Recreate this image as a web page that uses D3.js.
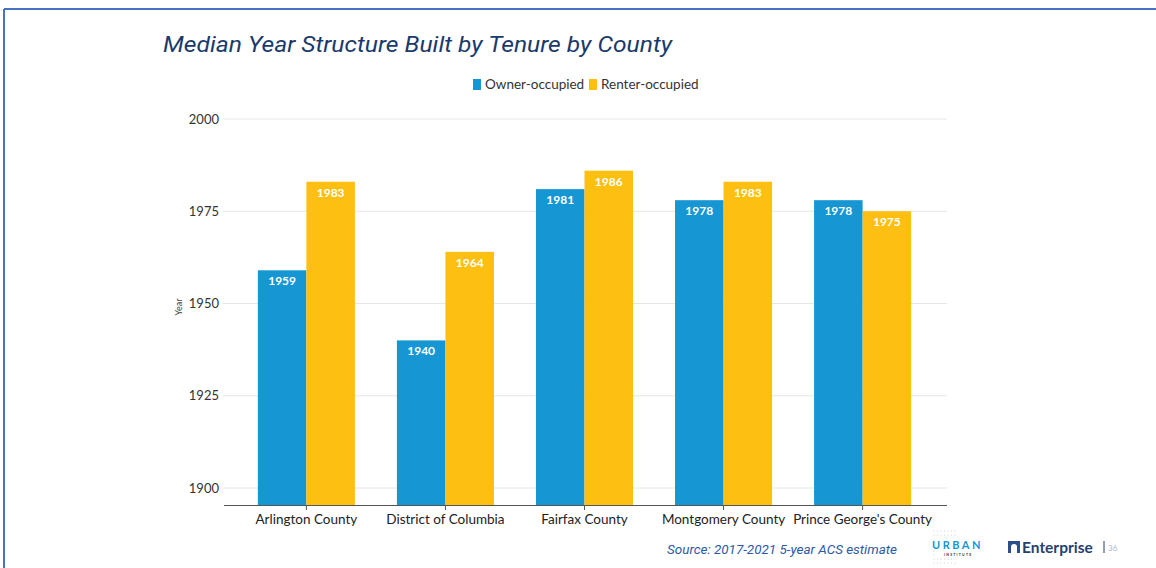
<!DOCTYPE html>
<html>
<head>
<meta charset="utf-8">
<script src="https://cdn.jsdelivr.net/npm/d3@7"></script>
<style>
  body { margin: 0; background: #fff; }
  svg { display: block; font-family: Lato, "Open Sans", sans-serif; }
</style>
</head>
<body>
<div id="canvas"></div>
<script>
var counties = ['Arlington County', 'District of Columbia', 'Fairfax County', 'Montgomery County', "Prince George's County"];
var series = ['Owner-occupied', 'Renter-occupied'];
var ownerYears = [1959, 1940, 1981, 1978, 1978];
var renterYears = [1983, 1964, 1986, 1983, 1975];
var yTicks = [1900, 1925, 1950, 1975, 2000];
var colors = ['#1696d2', '#fdbf11'];

var W = 1156, H = 568;

var svg = d3.select('#canvas').append('svg')
    .attr('width', W)
    .attr('height', H);

// slide frame
svg.append('line').attr('x1', 4).attr('x2', W).attr('y1', 9).attr('y2', 9)
    .style('stroke', '#4a72c2').style('stroke-width', 2);
svg.append('line').attr('x1', 4).attr('x2', 4).attr('y1', 9).attr('y2', H)
    .style('stroke', '#4a72c2').style('stroke-width', 2);

// title
svg.append('text')
    .attr('x', 163).attr('y', 52)
    .style('font-family', 'Roboto, "Open Sans", sans-serif')
    .style('font-style', 'italic')
    .style('font-weight', 400)
    .style('font-size', '22px')
    .style('fill', '#1b3a6b')
    .attr('textLength', 509)
    .attr('lengthAdjust', 'spacingAndGlyphs')
    .text('Median Year Structure Built by Tenure by County');

// scales
var y = d3.scaleLinear().domain([1895.4, 2000]).range([505, 119]);
var x0 = d3.scaleBand().domain(counties).range([237, 932]).paddingInner(0.302).paddingOuter(0.15);
var x1 = d3.scaleBand().domain(series).range([0, x0.bandwidth()]);

var rows = counties.map(function(c, i) {
  return { county: c, values: [ownerYears[i], renterYears[i]] };
});

// grid
var plot = svg.append('g');
plot.selectAll('.grid').data(yTicks).enter().append('line')
    .attr('class', 'grid')
    .attr('x1', 223).attr('x2', 947)
    .attr('y1', function(d) { return y(d); })
    .attr('y2', function(d) { return y(d); })
    .style('stroke', '#e6e6e6').style('stroke-width', 1);

plot.selectAll('.ylab').data(yTicks).enter().append('text')
    .attr('class', 'ylab')
    .attr('x', 219)
    .attr('y', function(d) { return y(d); })
    .attr('dy', '0.35em')
    .attr('text-anchor', 'end')
    .style('font-size', '13px')
    .style('fill', '#333')
    .text(function(d) { return d; });

svg.append('text')
    .attr('transform', 'translate(182,307) rotate(-90)')
    .attr('text-anchor', 'middle')
    .style('font-size', '9px')
    .style('fill', '#444')
    .text('Year');

// bars
var groups = plot.selectAll('.county').data(rows).enter().append('g')
    .attr('class', 'county')
    .attr('transform', function(d) { return 'translate(' + x0(d.county) + ',0)'; });

var cells = groups.selectAll('.cell')
    .data(function(d) { return d.values.map(function(v, j) { return { s: series[j], v: v, j: j }; }); })
    .enter();

cells.append('rect')
    .attr('x', function(d) { return x1(d.s); })
    .attr('y', function(d) { return y(d.v); })
    .attr('width', x1.bandwidth())
    .attr('height', function(d) { return y.range()[0] - y(d.v); })
    .style('fill', function(d) { return colors[d.j]; });

cells.append('text')
    .attr('x', function(d) { return x1(d.s) + x1.bandwidth() / 2; })
    .attr('y', function(d) { return y(d.v) + 15; })
    .attr('text-anchor', 'middle')
    .style('font-size', '12px')
    .style('font-weight', 'bold')
    .style('fill', '#fff')
    .text(function(d) { return d.v; });

// x axis
var xAxis = svg.append('g');
xAxis.append('line').attr('x1', 224).attr('x2', 947).attr('y1', 505.5).attr('y2', 505.5)
    .style('stroke', '#555').style('stroke-width', 1.2);
xAxis.selectAll('.xt').data(counties).enter().append('line')
    .attr('x1', function(d) { return x0(d) + x0.bandwidth() / 2; })
    .attr('x2', function(d) { return x0(d) + x0.bandwidth() / 2; })
    .attr('y1', 505).attr('y2', 510)
    .style('stroke', '#555');
xAxis.selectAll('.xl').data(counties).enter().append('text')
    .attr('x', function(d) { return x0(d) + x0.bandwidth() / 2; })
    .attr('y', 524)
    .attr('text-anchor', 'middle')
    .style('font-size', '13.5px')
    .style('fill', '#222')
    .text(function(d) { return d; });

// legend
var legend = svg.append('g').attr('transform', 'translate(473,79)');
var legendX = [0, 116];
series.forEach(function(s, i) {
  legend.append('rect').attr('x', legendX[i]).attr('y', 0).attr('width', 8).attr('height', 11)
      .style('fill', colors[i]);
  legend.append('text').attr('x', legendX[i] + 12).attr('y', 10)
      .style('font-size', '13.5px').style('fill', '#333').text(s);
});

// footer
svg.append('text')
    .attr('x', 667).attr('y', 554)
    .style('font-family', 'Roboto, "Open Sans", sans-serif')
    .style('font-style', 'italic')
    .style('font-size', '12.5px')
    .style('fill', '#2a5aa6')
    .attr('textLength', 230)
    .attr('lengthAdjust', 'spacingAndGlyphs')
    .text('Source: 2017-2021 5-year ACS estimate');

// urban logo: dot grid + wordmark
var dots = svg.append('g');
for (var r = 0; r < 9; r++) {
  for (var c = 0; c < 7; c++) {
    if (r > 1 && r < 7 && c > 0) continue;
    dots.append('circle').attr('cx', 934 + c * 3.5).attr('cy', 531 + r * 4).attr('r', 0.6)
        .style('fill', '#ccc');
  }
}
svg.append('text').attr('x', 932).attr('y', 549)
    .style('font-size', '11px').style('font-weight', 'bold').style('fill', '#1696d2')
    .style('letter-spacing', '2.5px').text('URBAN');
svg.append('text').attr('x', 944).attr('y', 556)
    .style('font-size', '3.5px').style('font-weight', 'bold').style('fill', '#333')
    .style('letter-spacing', '1.2px').text('INSTITUTE');

// enterprise logo
svg.append('path')
    .attr('d', 'M1008,541 h12 v12 h-3 v-6 a3,3 0 0 0 -6,0 v6 h-3 z')
    .style('fill', '#2c4f8c');
svg.append('text').attr('x', 1022).attr('y', 553)
    .style('font-size', '15.5px').style('font-weight', 'bold').style('fill', '#27406e')
    .text('Enterprise');
svg.append('line').attr('x1', 1104).attr('x2', 1104).attr('y1', 541).attr('y2', 553)
    .style('stroke', '#6a7ea6').style('stroke-width', 1.5);
svg.append('text').attr('x', 1108).attr('y', 551)
    .style('font-size', '8px').style('fill', '#a9b8d4').text('36');
</script>
</body>
</html>
